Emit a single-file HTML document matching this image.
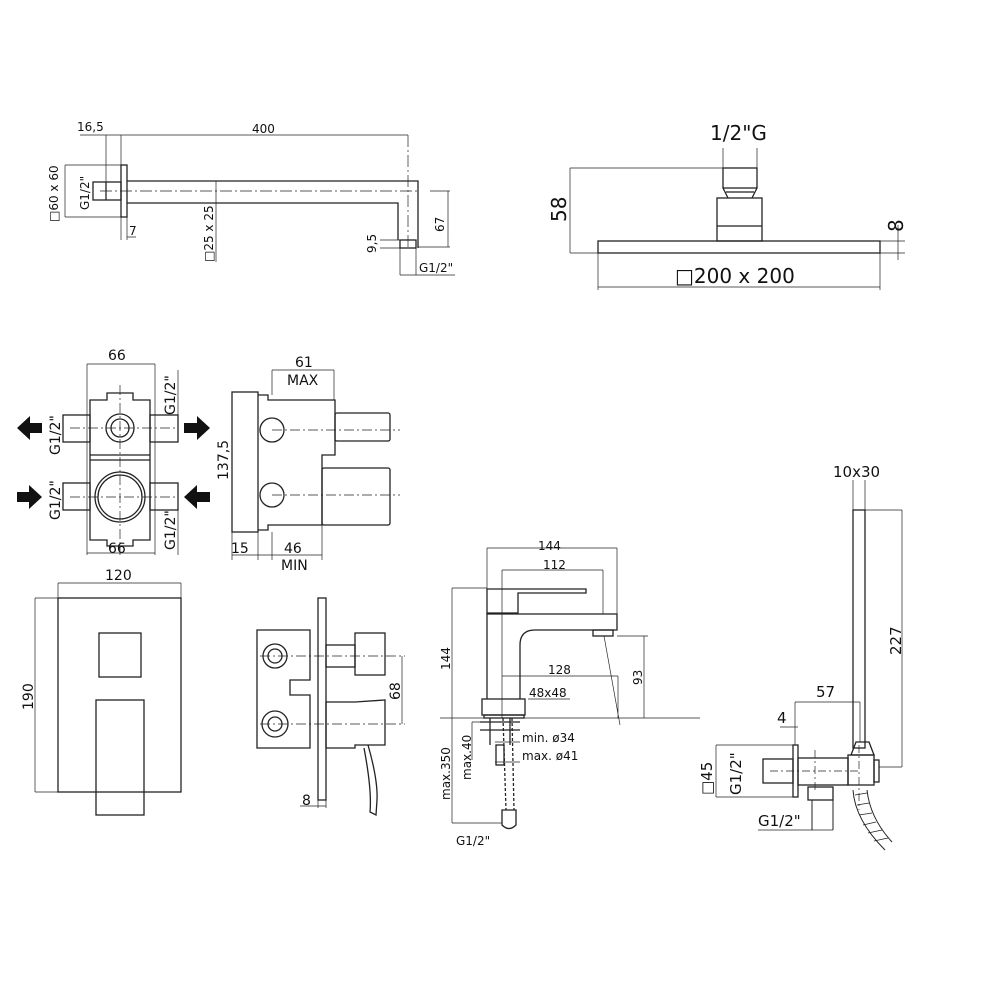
<!DOCTYPE html>
<html><head><meta charset="utf-8"><style>
html,body{margin:0;padding:0;background:#fff;width:1000px;height:1000px;overflow:hidden}
svg{display:block}
text{font-family:"DejaVu Sans","Liberation Sans",sans-serif;fill:#111}
</style></head><body>
<svg width="1000" height="1000" viewBox="0 0 1000 1000" xmlns="http://www.w3.org/2000/svg">
<g fill="none" stroke="#222" stroke-width="1.3">
<!-- TOP LEFT ARM -->
<rect x="121" y="165" width="6" height="52"/>
<rect x="93" y="182" width="28" height="18"/>
<line x1="106" y1="182" x2="106" y2="200"/>
<path d="M127 181 H418 V248 M127 203 H398 V240"/>
<rect x="400" y="240" width="16" height="8"/>
<g stroke-width="0.7">
<line x1="100" y1="191" x2="420" y2="191" stroke-dasharray="12 3 2 3"/>
<line x1="408" y1="135" x2="408" y2="248" stroke-dasharray="12 3 2 3"/>
<path d="M80 135 H408 M106 135 V182 M121 135 V165 M65 165 H121 M65 217 H121 M65 165 V217 M121 217 V240 M127 217 V240 M127 237 H136 M216 181 V262 M418 247 H450 M448 191 V247 M430 191 H450 M400 248 V275 M416 248 V275 M400 275 H455 M380 240 H400 M380 248 H400"/>
</g>
<!-- TOP RIGHT HEAD -->
<rect x="598" y="241" width="282" height="12"/>
<rect x="717" y="198" width="45" height="43"/>
<line x1="717" y1="226" x2="762" y2="226"/>
<rect x="723" y="168" width="34" height="20"/>
<path d="M723 188 L728 198 M757 188 L752 198 M726 192 H754"/>
<g stroke-width="0.7">
<path d="M570 168 H723 M570 253 H598 M570 168 V253 M723 148 V168 M757 148 V168 M880 253 H905 M880 241 H905 M898 225 V260 M598 253 V290 M880 253 V290 M598 287 H880"/>
</g>
<!-- BOX FRONT -->
<path d="M90 400 H107 V393 H133 V400 H150 V540 H133 V546 H107 V540 H90 Z"/>
<line x1="90" y1="455" x2="150" y2="455"/>
<line x1="90" y1="460" x2="150" y2="460"/>
<circle cx="120" cy="428" r="14"/><circle cx="120" cy="428" r="9"/>
<circle cx="120" cy="497" r="25"/><circle cx="120" cy="497" r="22"/>
<rect x="63" y="415" width="27" height="27"/><rect x="150" y="415" width="28" height="27"/>
<rect x="63" y="483" width="27" height="27"/><rect x="150" y="483" width="28" height="27"/>
<g stroke-width="0.7">
<path d="M70 428 H175 M70 497 H175 M120 385 V555" stroke-dasharray="10 3 2 3"/>
<path d="M87 364 H155 M87 364 V555 M155 364 V555 M87 553 H155 M178 370 V442 M178 483 V555"/>
</g>
<!-- BOX SIDE -->
<rect x="232" y="392" width="26" height="140"/>
<path d="M258 395 H268 V400 H335 V455 H322 V525 H268 V530 H258"/>
<circle cx="272" cy="430" r="12"/><circle cx="272" cy="495" r="12"/>
<rect x="335" y="413" width="55" height="28" rx="2"/>
<rect x="322" y="468" width="68" height="57" rx="2"/>
<g stroke-width="0.7">
<path d="M272 430 H400 M272 495 H400" stroke-dasharray="10 3 2 3"/>
<path d="M272 370 H334 M272 370 V395 M334 370 V400 M232 392 V560 M258 532 V560 M272 532 V560 M322 525 V560 M232 555 H322"/>
</g>
<!-- COVER PLATE -->
<rect x="58" y="598" width="123" height="194"/>
<rect x="99" y="633" width="42" height="44"/>
<rect x="96" y="700" width="48" height="115"/>
<g stroke-width="0.7">
<path d="M58 583 H181 M58 583 V598 M181 583 V598 M35 598 H58 M35 792 H58 M35 598 V792"/>
</g>
<!-- DIVERTER SIDE -->
<rect x="318" y="598" width="8" height="202"/>
<path d="M257 630 H310 V680 H290 V695 H310 V748 H257 Z"/>
<circle cx="275" cy="656" r="12"/><circle cx="275" cy="656" r="7"/>
<circle cx="275" cy="724" r="13"/><circle cx="275" cy="724" r="7"/>
<rect x="326" y="645" width="29" height="22"/>
<rect x="355" y="633" width="30" height="42"/>
<path d="M326 702 H355 L385 700 V745 H355 V748 H326 Z M368 745 Q378 780 377 800 L376 815 L370 812 Q372 790 364 748"/>
<g stroke-width="0.7">
<path d="M260 656 H405 M260 724 H405" stroke-dasharray="10 3 2 3"/>
<path d="M402 656 V724 M318 800 V808 M326 800 V808 M300 806 H326"/>
</g>
<!-- BASIN MIXER -->
<path d="M487 589 H586 V593 H518 V613 H487 Z"/>
<path d="M487 614 H617 V630 H535 Q520 630 520 645 V699 M487 613 V699"/>
<rect x="593" y="630" width="20" height="6"/>
<rect x="482" y="699" width="43" height="16"/>
<rect x="484" y="715" width="40" height="3"/>
<path d="M490 718 V745 M510 718 V745 M480 722 H520 M480 730 H520"/>
<rect x="496" y="745" width="8" height="20"/>
<path d="M503 718 L506 810 M512 718 L514 810" stroke-dasharray="3 2"/>
<path d="M502 810 H516 V825 Q509 832 502 825 Z"/>
<g stroke-width="0.7">
<path d="M440 718 H700 M487 548 V589 M617 548 V614 M487 548 H617 M502 570 H603 M502 570 V718 M603 570 V614 M502 676 H618 M618 676 V718 M528 699 H570 M617 636 H648 M644 636 V718 M452 588 H487 M452 588 V718 M452 718 V823 M452 823 H502 M472 722 V760 M472 722 H490 M495 742 H520 M495 762 H520 M604 636 L620 725"/>
</g>
<!-- HAND SHOWER -->
<rect x="853" y="510" width="12" height="238"/>
<path d="M851 755 L856 742 H869 L874 755 Z"/>
<rect x="848" y="755" width="26" height="30"/>
<rect x="874" y="760" width="5" height="22"/>
<rect x="793" y="745" width="5" height="52"/>
<rect x="798" y="758" width="50" height="27"/>
<rect x="763" y="759" width="30" height="24"/>
<rect x="808" y="787" width="25" height="13"/>
<path d="M812 800 V830 M833 800 V830 M853 790 Q855 820 885 850 M867 790 Q870 818 892 842" stroke-width="1"/>
<path d="M855 795 L867 793 M857 805 L869 803 M859 815 L872 813 M863 825 L876 822 M868 833 L882 830 M874 841 L888 838" stroke-width="0.7"/>
<g stroke-width="0.7">
<path d="M770 771 H860 M815 750 V790 M859 745 V810" stroke-dasharray="8 3 2 3"/>
<path d="M853 480 V510 M865 480 V510 M865 510 H902 M902 510 V767 M879 767 H902 M795 702 H860 M795 702 V745 M860 702 V742 M780 727 H798 M716 745 H793 M716 797 H793 M716 745 V797 M758 830 H833"/>
</g>
</g>
<!-- arrows -->
<g fill="#111">
<path d="M17 428 L30 416 V423 H42 V433 H30 V440 Z"/>
<path d="M210 428 L197 416 V423 H184 V433 H197 V440 Z"/>
<path d="M42 497 L29 485 V492 H17 V502 H29 V509 Z"/>
<path d="M184 497 L197 485 V492 H210 V502 H197 V509 Z"/>
</g>
<!-- TEXT -->
<g font-size="12">
<text x="77" y="131">16,5</text>
<text x="252" y="133">400</text>
<text x="58" y="222" transform="rotate(-90 58 222)">□60 x 60</text>
<text x="89" y="210" transform="rotate(-90 89 210)">G1/2"</text>
<text x="129" y="235">7</text>
<text x="213" y="262" transform="rotate(-90 213 262)">□25 x 25</text>
<text x="444" y="232" transform="rotate(-90 444 232)">67</text>
<text x="376" y="253" transform="rotate(-90 376 253)">9,5</text>
<text x="419" y="272">G1/2"</text>
</g>
<g font-size="20">
<text x="710" y="140">1/2"G</text>
<text x="566" y="222" transform="rotate(-90 566 222)">58</text>
<text x="903" y="232" transform="rotate(-90 903 232)">8</text>
<text x="675" y="283">□200 x 200</text>
</g>
<g font-size="14">
<text x="108" y="360">66</text>
<text x="108" y="553">66</text>
<text x="60" y="455" transform="rotate(-90 60 455)">G1/2"</text>
<text x="60" y="520" transform="rotate(-90 60 520)">G1/2"</text>
<text x="175" y="415" transform="rotate(-90 175 415)">G1/2"</text>
<text x="175" y="550" transform="rotate(-90 175 550)">G1/2"</text>
<text x="295" y="367">61</text>
<text x="287" y="385">MAX</text>
<text x="228" y="480" transform="rotate(-90 228 480)">137,5</text>
<text x="231" y="553">15</text>
<text x="284" y="553">46</text>
<text x="281" y="570">MIN</text>
<text x="105" y="580">120</text>
<text x="33" y="710" transform="rotate(-90 33 710)">190</text>
<text x="400" y="700" transform="rotate(-90 400 700)">68</text>
<text x="302" y="805">8</text>
</g>
<g font-size="12">
<text x="538" y="550">144</text>
<text x="543" y="569">112</text>
<text x="548" y="674">128</text>
<text x="529" y="697">48x48</text>
<text x="450" y="670" transform="rotate(-90 450 670)">144</text>
<text x="642" y="685" transform="rotate(-90 642 685)">93</text>
<text x="522" y="742">min. ø34</text>
<text x="522" y="760">max. ø41</text>
<text x="471" y="780" transform="rotate(-90 471 780)">max.40</text>
<text x="450" y="800" transform="rotate(-90 450 800)">max.350</text>
<text x="456" y="845">G1/2"</text>
</g>
<g font-size="15">
<text x="833" y="477">10x30</text>
<text x="901" y="655" transform="rotate(-90 901 655)">227</text>
<text x="816" y="697">57</text>
<text x="777" y="723">4</text>
<text x="712" y="795" transform="rotate(-90 712 795)">□45</text>
<text x="741" y="795" transform="rotate(-90 741 795)">G1/2"</text>
<text x="758" y="826">G1/2"</text>
</g>
</svg>
</body></html>
